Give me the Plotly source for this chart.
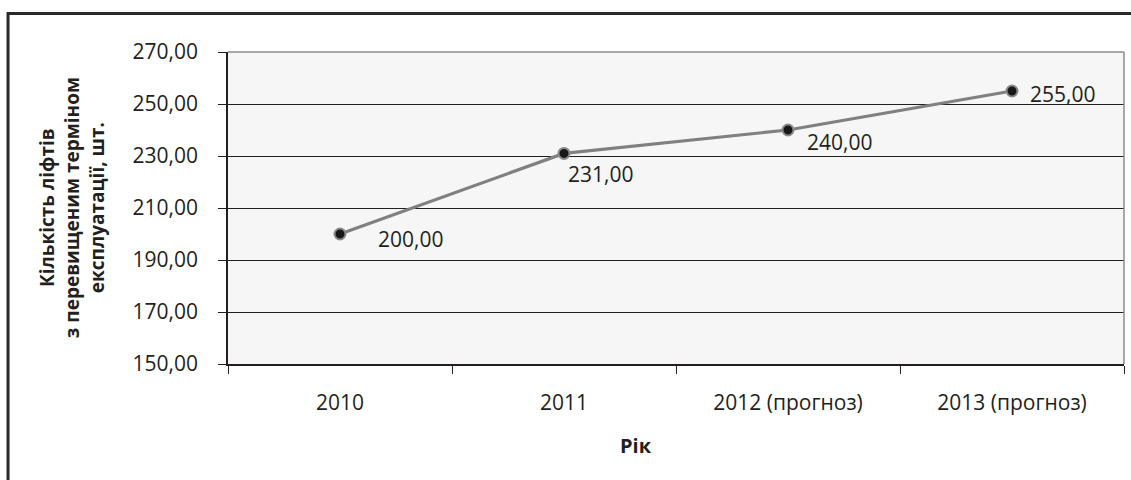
import plotly.graph_objects as go

# Data
years = ["2010", "2011", "2012 (прогноз)", "2013 (прогноз)"]
lifts = [200.00, 231.00, 240.00, 255.00]
y_ticks = [150, 170, 190, 210, 230, 250, 270]

# Label offsets (px) for each value label relative to its point
label_dx = [36, 2, 17, 16]
label_dy = [-5, -21, -12, -3]

ink = "#231f20"
font = "Open Sans"

fig = go.Figure()
fig.add_trace(go.Scatter(
    x=years, y=lifts, mode="lines+markers",
    line=dict(color="#808080", width=3.2),
    marker=dict(size=11, color="#1a1718", line=dict(color="#8a8a8a", width=2)),
    showlegend=False, hoverinfo="skip",
))

# Value labels; category axis positions are given by index
for i, (yv, dx, dy) in enumerate(zip(lifts, label_dx, label_dy)):
    fig.add_annotation(
        x=i, y=yv, xref="x", yref="y",
        text=f"{yv:.2f}".replace(".", ","),
        showarrow=False, xanchor="left", yanchor="middle",
        xshift=dx, yshift=dy,
        font=dict(family=font, size=21, color=ink),
    )

# Y-axis title (three lines, rotated)
fig.add_annotation(
    x=-0.175, y=0.5, xref="paper", yref="paper",
    text="<b>Кількість ліфтів<br>з перевищеним терміном<br>експлуатації, шт.</b>",
    textangle=-90, showarrow=False, xanchor="center", yanchor="middle",
    font=dict(family=font, size=19, color=ink),
)
# X-axis title
fig.add_annotation(
    x=0.455, y=-0.26, xref="paper", yref="paper",
    text="<b>Рік</b>", showarrow=False, xanchor="center", yanchor="middle",
    font=dict(family=font, size=20, color=ink),
)

# Light plot frame on the top and right sides
fig.add_shape(type="line", xref="paper", yref="paper", x0=0, x1=1, y0=1, y1=1,
              line=dict(color="#8c8c8c", width=1.5), layer="above")
fig.add_shape(type="line", xref="paper", yref="paper", x0=1, x1=1, y0=0, y1=1,
              line=dict(color="#8c8c8c", width=1.5), layer="above")
# Outer chart border
fig.add_shape(type="rect", xref="paper", yref="paper",
              x0=-0.2455, x1=1.02, y0=-0.45, y1=1.123,
              line=dict(color="#2a2a2a", width=3), fillcolor="rgba(0,0,0,0)",
              layer="above")

fig.update_layout(
    width=1131, height=480,
    margin=dict(l=228, r=7, t=52, b=116),
    paper_bgcolor="white", plot_bgcolor="#f6f6f6",
    separators=", ",
    font=dict(family=font, size=21, color=ink),
    xaxis=dict(
        type="category", range=[-0.5, 3.5],
        tickson="boundaries", ticks="outside", ticklen=8, tickwidth=1,
        tickcolor=ink, showline=True, linecolor=ink, linewidth=1.5,
        showgrid=False, ticklabelstandoff=19,
        tickfont=dict(family=font, size=21, color=ink),
    ),
    yaxis=dict(
        range=[150, 270], tickvals=y_ticks, tickformat=".2f",
        ticks="outside", ticklen=8, tickwidth=1, tickcolor=ink,
        showline=True, linecolor=ink, linewidth=1.5,
        showgrid=True, gridcolor=ink, gridwidth=1, zeroline=False,
        ticklabelstandoff=16,
        tickfont=dict(family=font, size=21, color=ink),
    ),
)

fig.write_html("out.html")
